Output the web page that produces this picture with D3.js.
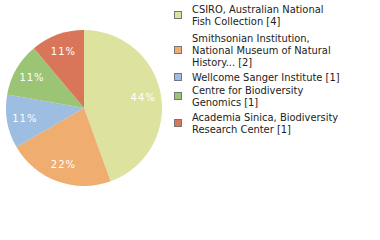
<!DOCTYPE html>
<html><head><meta charset="utf-8">
<script src="https://cdn.jsdelivr.net/npm/d3@7"></script>
<style>body{margin:0;background:#fff}svg{display:block}</style>
</head><body>
<svg id="c" width="380" height="240"></svg>
<script>
const labels = [
  ["CSIRO, Australian National", "Fish Collection [4]"],
  ["Smithsonian Institution,", "National Museum of Natural", "History... [2]"],
  ["Wellcome Sanger Institute [1]"],
  ["Centre for Biodiversity", "Genomics [1]"],
  ["Academia Sinica, Biodiversity", "Research Center [1]"]
];
const values = [4, 2, 1, 1, 1];
const colors = ["#dde39e", "#efad6f", "#9dbde1", "#9cc475", "#d9765a"];

const svg = d3.select("#c");
const cx = 84, cy = 108, R = 78;
const pie = d3.pie().sort(null).value(d => d)(values);
const arc = d3.arc().innerRadius(0).outerRadius(R);
const labArc = d3.arc().innerRadius(R * 0.77).outerRadius(R * 0.77);
const total = d3.sum(values);
const g = svg.append("g").attr("transform", `translate(${cx},${cy})`);
g.selectAll("path").data(pie).join("path")
  .attr("d", arc).attr("fill", (d, i) => colors[i]);
g.selectAll("text").data(pie).join("text")
  .attr("transform", d => `translate(${labArc.centroid(d)})`)
  .attr("text-anchor", "middle").attr("dy", "0.35em")
  .attr("fill", "#fff").attr("font-family", "DejaVu Sans").attr("font-size", 10)
  .attr("letter-spacing", 1)
  .text(d => Math.round(d.value / total * 100) + "%");

const lineH = 12;
const starts = [9, 38, 77, 90, 117];
const lg = svg.append("g");
labels.forEach((lines, i) => {
  const top = starts[i];
  const mid = top + (lines.length - 1) * lineH / 2;
  lg.append("rect").attr("x", 174.5).attr("y", mid - 3.5).attr("width", 7).attr("height", 7)
    .attr("fill", colors[i]).attr("stroke", "#777").attr("stroke-width", 1);
  const t = lg.append("text").attr("font-family", "DejaVu Sans Condensed, DejaVu Sans").attr("font-size", 11).attr("fill", "#222");
  lines.forEach((s, j) => {
    t.append("tspan").attr("x", 192).attr("y", top + j * lineH).attr("dy", "0.35em").text(s);
  });
});
</script>
</body></html>
